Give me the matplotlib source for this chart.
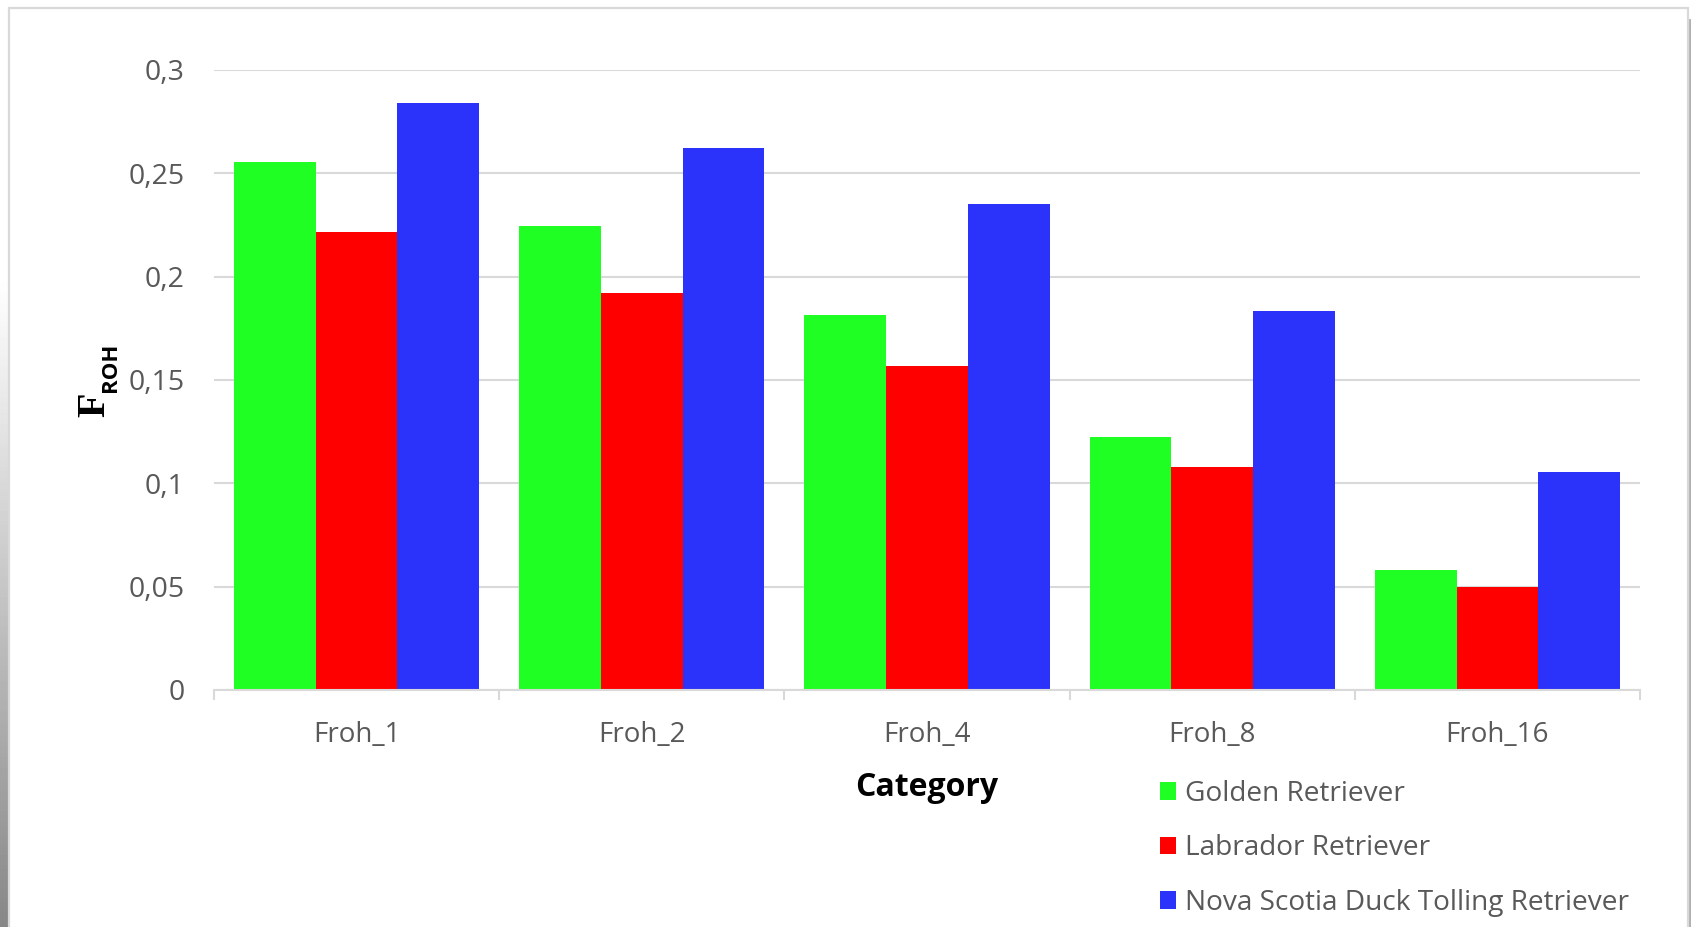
import numpy as np
import matplotlib
matplotlib.use("Agg")
import matplotlib.pyplot as plt
from matplotlib.patches import Patch, Rectangle
from matplotlib.ticker import FuncFormatter, FixedLocator

# ROH-based inbreeding coefficients per minimum ROH length class
categories = ["Froh_1", "Froh_2", "Froh_4", "Froh_8", "Froh_16"]
breeds = ["Golden Retriever", "Labrador Retriever", "Nova Scotia Duck Tolling Retriever"]
golden = [0.2557, 0.2245, 0.1813, 0.1224, 0.0583]
labrador = [0.2214, 0.1922, 0.1568, 0.1078, 0.0500]
tolling = [0.2839, 0.2625, 0.2354, 0.1833, 0.1057]
colors = ["#1FFF24", "#FF0000", "#2B33FA"]

W, H = 1691, 927
fig = plt.figure(figsize=(W / 100, H / 100), dpi=100)
fig.patch.set_facecolor("white")

grid_col = "#D9D9D9"
txt_col = "#595959"
font = "Open Sans"

ax = fig.add_axes([214 / W, 1 - 690 / H, 1426 / W, 620 / H])
x = np.arange(len(categories))
bw = 0.2865
for i, (vals, c) in enumerate(zip([golden, labrador, tolling], colors)):
    ax.bar(x + (i - 1) * bw, vals, width=bw, color=c, zorder=3)

ax.set_xlim(-0.5, len(categories) - 0.5)
ax.set_ylim(0, 0.3)
ax.set_yticks(np.arange(0, 0.301, 0.05))
ax.yaxis.set_major_formatter(FuncFormatter(lambda v, p: f"{v:g}".replace(".", ",")))
ax.yaxis.grid(True, color=grid_col, linewidth=1.5, zorder=0)
ax.tick_params(axis="y", length=0, pad=21, labelsize=20.5, labelcolor=txt_col)
for lab in ax.get_yticklabels():
    lab.set_fontfamily(font)

ax.set_xticks(x)
ax.set_xticklabels(categories, fontsize=20, color=txt_col, fontfamily=font)
ax.tick_params(axis="x", which="major", length=0, pad=22)
ax.xaxis.set_minor_locator(FixedLocator(np.arange(-0.5, len(categories), 1.0)))
ax.tick_params(axis="x", which="minor", length=7.5, width=1.5, color=grid_col, direction="out")

for s in ["top", "right", "left"]:
    ax.spines[s].set_visible(False)
ax.spines["bottom"].set_color(grid_col)
ax.spines["bottom"].set_linewidth(1.5)
ax.spines["bottom"].set_zorder(4)

# axis titles
fig.text(927 / W, 1 - 787 / H, "Category", ha="center", va="center",
         fontsize=23, fontweight="bold", color="black", fontfamily=font)
fig.text(95 / W, 1 - 405 / H, "F", rotation=90, ha="center", va="center",
         fontsize=29, fontweight="bold", color="black", fontfamily="Liberation Serif")
fig.text(110 / W, 1 - 367 / H, "ROH", rotation=90, ha="center", va="center",
         fontsize=16, fontweight="bold", color="black", fontfamily=font)

handles = [Patch(facecolor=c, edgecolor="none") for c in colors]
fig.legend(handles, breeds, loc="upper left", bbox_to_anchor=(1160 / W, 1 - 780 / H),
           frameon=False, prop={"family": font, "size": 20.2},
           handlelength=0.58, handleheight=0.58, handletextpad=0.3, labelspacing=0.94,
           labelcolor=txt_col, borderaxespad=0, borderpad=0)

# chart area border
fig.add_artist(Rectangle((9 / W, -0.01), (1688 - 9) / W, 1 - 7.5 / H + 0.01,
                         transform=fig.transFigure, fill=False,
                         edgecolor=grid_col, linewidth=1.6))

# page shadow along the left edge
sh = fig.add_axes([0, 0, 8 / W, 1])
grad = np.linspace(0, 1, 256)
grad = np.clip((grad - 0.3) / 0.7, 0, 1)[:, None]
sh.imshow(1 - 0.47 * grad, cmap="gray", vmin=0, vmax=1, aspect="auto", extent=[0, 1, 0, 1])
sh.axis("off")
fig.add_artist(plt.Line2D([1689.5 / W, 1689.5 / W], [0, 1 - 20 / H], transform=fig.transFigure,
                          color="#B0B0B0", linewidth=2))

fig.savefig("out.png", dpi=100)
